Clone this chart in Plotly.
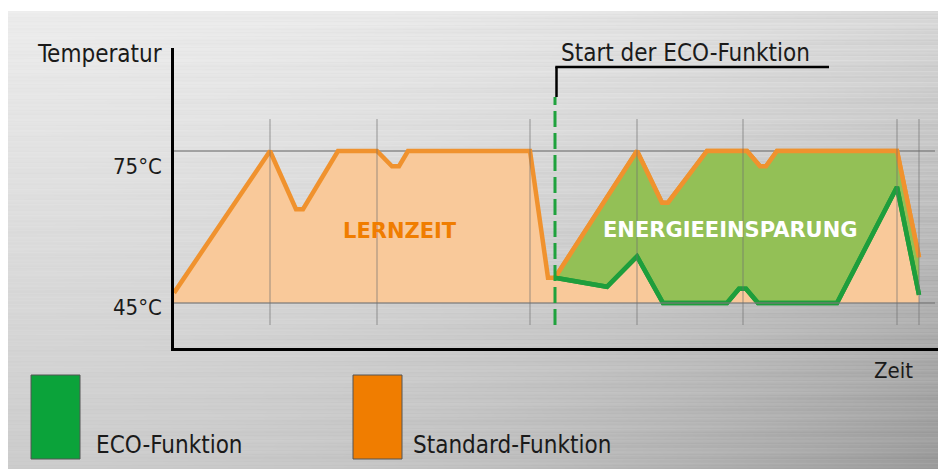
import base64, zlib, struct
import numpy as np
import plotly.graph_objects as go

# ---------------- data ----------------
# time in arbitrary units (0 = start), temperature in °C
std_time = [0, 96, 122, 129, 164, 203, 218, 225, 234, 356, 374, 381, 463, 488, 494, 533, 573, 586, 592, 603, 723, 745]
std_temp = [47.0, 75, 63.5, 63.5, 75, 75, 72, 72, 75, 75, 50, 50, 75, 64.8, 64.8, 75, 75, 72, 72, 75, 75, 54]

eco_time = [381, 433, 463, 489, 553, 565, 572, 584, 663, 723, 745]
eco_temp = [50, 48.2, 54.2, 45, 45, 47.8, 47.8, 45, 45, 67.9, 46.6]

eco_start = 381
base_temp = 45
temp_ticks = [45, 75]
tick_labels = ["45°C", "75°C"]
grid_times = [96, 203, 356, 463, 569, 723, 745]

FONT = "DejaVu Sans Condensed, Liberation Sans Narrow, Arial Narrow, sans-serif"
ORANGE_LINE = "#F0922E"
GREEN_LINE = "#1E9E3C"
PEACH = "#F9C99A"
GREEN_FILL = "#93C056"

OFF = 8  # page body margin
W, H = 946, 469
ML, MT = 174 - OFF, 48 - OFF
PW, PH = 766, 300
MR, MB = W - ML - PW, H - MT - PH
X_RANGE = [0, 766]
Y_RANGE = [36.12, 95.33]


def px2paper(px, py):
    return (px - OFF - ML) / PW, (MT + PH - (py - OFF)) / PH


# ---------------- background (brushed metal) ----------------
def make_bg():
    yy, xx = np.mgrid[0:H, 0:W].astype(float)
    X = xx + OFF
    Y = yy + OFF
    fx = X / W
    fy = Y / H
    b = 237 - 33 * fy - (20 + 30 * fy) * fx ** 2
    streak = (2.2 * np.sin(Y * 1.7) + 1.6 * np.sin(Y * 0.53 + 1.3) + 1.2 * np.sin(Y * 2.9 + X * 0.003)
              + 1.0 * np.sin(Y * 0.21 + X * 0.01))
    b = b + streak * (0.5 + fx)
    b[:3, :] = 255
    img = np.clip(b, 0, 255).astype(np.uint8)
    raw = b"".join(b"\x00" + img[r].tobytes() for r in range(H))

    def chunk(tag, data):
        c = struct.pack(">I", len(data)) + tag + data
        return c + struct.pack(">I", zlib.crc32(tag + data) & 0xFFFFFFFF)

    png = b"\x89PNG\r\n\x1a\n" + chunk(b"IHDR", struct.pack(">IIBBBBB", W, H, 8, 0, 0, 0, 0)) \
        + chunk(b"IDAT", zlib.compress(raw, 9)) + chunk(b"IEND", b"")
    return "data:image/png;base64," + base64.b64encode(png).decode()


fig = go.Figure()
LW = 4.5

# baseline for peach fill
fig.add_trace(go.Scatter(x=[std_time[0], std_time[-1]], y=[base_temp, base_temp], mode="lines",
                         line=dict(width=0), hoverinfo="skip", showlegend=False))
# standard function (peach fill to 45°C)
fig.add_trace(go.Scatter(x=std_time, y=std_temp, mode="lines", fill="tonexty", fillcolor=PEACH,
                         line=dict(color=ORANGE_LINE, width=LW), showlegend=False))
# orange part after ECO start (for green fill)
sub = [(t, v) for t, v in zip(std_time, std_temp) if t >= eco_start]
fig.add_trace(go.Scatter(x=[s[0] for s in sub], y=[s[1] for s in sub], mode="lines",
                         line=dict(width=0), hoverinfo="skip", showlegend=False))
fig.add_trace(go.Scatter(x=eco_time, y=eco_temp, mode="lines", fill="tonexty", fillcolor=GREEN_FILL,
                         line=dict(color=GREEN_LINE, width=LW), showlegend=False))
# re-draw orange line on top
fig.add_trace(go.Scatter(x=[s[0] for s in sub], y=[s[1] for s in sub], mode="lines",
                         line=dict(color=ORANGE_LINE, width=LW), hoverinfo="skip", showlegend=False))
fig.add_trace(go.Scatter(x=eco_time, y=eco_temp, mode="lines",
                         line=dict(color=GREEN_LINE, width=LW), hoverinfo="skip", showlegend=False))

shapes = []
# horizontal grid lines
for tv in temp_ticks:
    shapes.append(dict(type="line", xref="x", yref="y", x0=0, x1=761, y0=tv, y1=tv,
                       line=dict(color="rgba(120,120,120,0.6)", width=2),
                       layer="above" if tv == base_temp else "below"))
# vertical grid lines
for gt in grid_times:
    shapes.append(dict(type="line", xref="x", yref="y", x0=gt, x1=gt, y0=40.66, y1=81.3,
                       line=dict(color="rgba(110,110,110,0.45)", width=1.5), layer="above"))
# ECO start dashed line
shapes.append(dict(type="line", xref="x", yref="y", x0=eco_start, x1=eco_start, y0=40.66, y1=85.66,
                   line=dict(color="#1FA23D", width=3, dash="16px,6px"), layer="above"))
# bracket
shapes.append(dict(type="line", xref="x", yref="y", x0=eco_start + 1.5, x1=eco_start + 1.5, y0=85.66, y1=91.6,
                   line=dict(color="black", width=2.5), layer="above"))
shapes.append(dict(type="line", xref="x", yref="y", x0=eco_start + 0.3, x1=655, y0=91.6, y1=91.6,
                   line=dict(color="black", width=2.5), layer="above"))
# legend boxes
for x0, col in [(31, "#0BA33A"), (353, "#F07D00")]:
    a0, b0 = px2paper(x0, 459)
    a1, b1 = px2paper(x0 + 49, 375)
    shapes.append(dict(type="rect", xref="paper", yref="paper", x0=a0, x1=a1, y0=b0, y1=b1,
                       fillcolor=col, line=dict(color="#555555", width=1)))

annotations = []


def add_text(text, px, py, xanchor="left", size=24, color="#1a1a1a"):
    xp, yp = px2paper(px, py)
    annotations.append(dict(text=text, xref="paper", yref="paper", x=xp, y=yp, xanchor=xanchor,
                            yanchor="middle", showarrow=False,
                            font=dict(family=FONT, size=size, color=color)))


add_text("Temperatur", 164, 54, xanchor="right")
add_text("Start der ECO-Funktion", 559, 53)
add_text("Zeit", 893, 370, xanchor="center", size=22)
add_text("ECO-Funktion", 94, 445)
add_text("Standard-Funktion", 411, 445)

# tick labels (slightly below grid lines as in the original)
for tv, lab, dy in zip(temp_ticks, tick_labels, [4, 15]):
    annotations.append(dict(text=lab, xref="paper", yref="y", x=(164 - OFF - ML) / PW, y=tv, yshift=-dy,
                            xanchor="right", yanchor="middle", showarrow=False,
                            font=dict(family=FONT, size=22, color="#1a1a1a")))

annotations.append(dict(text="<b>LERNZEIT</b>", x=226, y=59.2, xref="x", yref="y", showarrow=False,
                        font=dict(family="DejaVu Sans, sans-serif", size=21, color="#F07D00")))
annotations.append(dict(text="<b>ENERGIEEINSPARUNG</b>", x=556, y=59.4, xref="x", yref="y", showarrow=False,
                        font=dict(family="DejaVu Sans, sans-serif", size=21, color="white")))

fig.update_layout(
    width=W, height=H,
    margin=dict(l=ML, r=MR, t=MT, b=MB),
    paper_bgcolor="#d8d8d8",
    plot_bgcolor="rgba(0,0,0,0)",
    shapes=shapes,
    annotations=annotations,
    images=[dict(source=make_bg(), xref="paper", yref="paper", x=-ML / PW, y=1 + MT / PH,
                 sizex=W / PW, sizey=H / PH, sizing="stretch", xanchor="left", yanchor="top",
                 layer="below")],
    xaxis=dict(range=X_RANGE, showgrid=False, zeroline=False, showticklabels=False, ticks="",
               showline=True, linecolor="black", linewidth=2.5, fixedrange=True),
    yaxis=dict(range=Y_RANGE, showgrid=False, zeroline=False, showticklabels=False, ticks="",
               showline=True, linecolor="black", linewidth=2.5, fixedrange=True),
    showlegend=False,
)

fig.write_html("out.html")
